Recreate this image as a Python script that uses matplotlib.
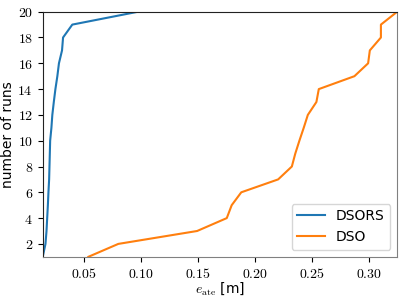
import numpy as np
import matplotlib
matplotlib.use('Agg')
import matplotlib.pyplot as plt
from matplotlib.ticker import FuncFormatter, MultipleLocator

matplotlib.rcParams['mathtext.fontset'] = 'cm'
matplotlib.rcParams['font.size'] = 10

runs = np.arange(1, 21)

# sorted absolute trajectory errors [m]
dsors_err = [0.0138, 0.0162, 0.0171, 0.0177, 0.0183, 0.0188, 0.0194, 0.0197, 0.0200, 0.0203,
             0.0214, 0.0222, 0.0235, 0.0249, 0.0266, 0.0280, 0.0307, 0.0316, 0.0397, 0.0974]
dso_err = [0.0538, 0.0800, 0.1490, 0.1750, 0.1793, 0.1877, 0.2200, 0.2320, 0.2350, 0.2386,
           0.2424, 0.2460, 0.2535, 0.2556, 0.2868, 0.2988, 0.3003, 0.3100, 0.3100, 0.3243]

fig = plt.figure(figsize=(4.07, 3.0), dpi=100)
ax = fig.add_axes([0.105, 0.144, 0.871, 0.817])

ax.plot(dsors_err, runs, color='C0', label='DSORS')
ax.plot(dso_err, runs, color='C1', label='DSO')

ax.set_xlim(min(dsors_err), max(dso_err))
ax.set_ylim(1, 20)
ax.yaxis.set_major_locator(MultipleLocator(2))
ax.xaxis.set_major_locator(MultipleLocator(0.05))
ax.xaxis.set_major_formatter(FuncFormatter(lambda v, p: r'$%.2f$' % v))
ax.yaxis.set_major_formatter(FuncFormatter(lambda v, p: r'$%d$' % v))

ax.set_xlabel(r'$e_\mathrm{ate}$ [m]', labelpad=0)
ax.set_ylabel('number of runs', labelpad=2)

ax.spines['left'].set_color('#222222')
ax.spines['top'].set_color('#222222')
ax.spines['bottom'].set_color('#808080')
ax.spines['right'].set_color('#808080')

ax.legend(loc='lower right', fontsize=10)

plt.savefig('out.png', dpi=100)
